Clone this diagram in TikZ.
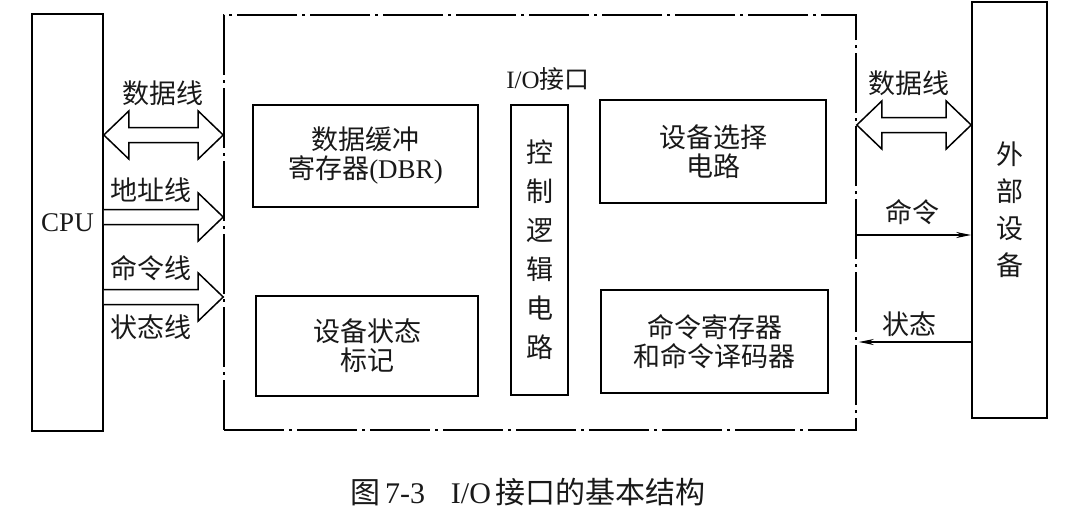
\documentclass[tikz,border=0pt]{standalone}
\usepackage{fontspec}
\setmainfont{Liberation Serif}
\newfontfamily\cjk{Noto Sans CJK SC}
\usetikzlibrary{calc,arrows.meta}
\newcommand\hollowR[2]{%
  \draw[hollow] let \p1=(#1), \p2=(#2) in
    (\x1,\y1+7.5) -- (\x2-25pt,\y1+7.5) -- (\x2-25pt,\y1+24) -- (\x2,\y1)
    -- (\x2-25pt,\y1-24) -- (\x2-25pt,\y1-7.5) -- (\x1,\y1-7.5);}
\newcommand\hollowLR[2]{%
  \draw[hollow] let \p1=(#1), \p2=(#2) in
    (\x1,\y1) -- (\x1+25pt,\y1+24) -- (\x1+25pt,\y1+7.5) -- (\x2-25pt,\y1+7.5)
    -- (\x2-25pt,\y1+24) -- (\x2,\y1) -- (\x2-25pt,\y1-24) -- (\x2-25pt,\y1-7.5)
    -- (\x1+25pt,\y1-7.5) -- (\x1+25pt,\y1-24) -- cycle;}
\tikzset{
  txt/.style={font=\fontsize{27}{29}\selectfont, text=black!90, inner sep=0pt},
  cjktxt/.style={txt, font=\fontsize{27}{29}\selectfont\cjk},
  box/.style={draw, line width=1.6pt, txt, align=center, inner sep=0pt},
  frame/.style={draw, line width=1.6pt, dash pattern=on 60pt off 5pt on 3pt off 5pt},
  hollow/.style={draw, line width=1.5pt, line join=miter, fill=white},
  thin arrow/.style={draw, line width=1.3pt, -{Stealth[length=15pt,width=6pt]}},
}
\begin{document}
\begin{tikzpicture}[x=1pt,y=-1pt]
\useasboundingbox[fill=white] (0,0) rectangle (1088,514);
% main blocks
\node[box, minimum width=71pt, minimum height=417pt] (cpu) at (67.5,222.5) {CPU};
\node[frame, minimum width=632pt, minimum height=415pt, inner sep=0pt] (io) at (540,222.5) {};
\node[box, minimum width=75pt, minimum height=416pt, font=\fontsize{27}{37}\selectfont\cjk] (dev) at (1009.5,210) {外\\部\\设\\备};
% inner blocks
\node[box, minimum width=225pt, minimum height=102pt] (dbr) at (365.5,156) {{\cjk 数据缓冲}\\{\cjk 寄存器}(DBR)};
\node[box, minimum width=222pt, minimum height=100pt, font=\fontsize{27}{29}\selectfont\cjk] (stat) at (367,346) {设备状态\\标记};
\node[box, minimum width=57pt, minimum height=290pt, font=\fontsize{27}{39}\selectfont\cjk] (ctrl) at (539.5,250) {控\\制\\逻\\辑\\电\\路};
\node[box, minimum width=226pt, minimum height=103pt, font=\fontsize{27}{29}\selectfont\cjk] (sel) at (713,151.5) {设备选择\\电路};
\node[box, minimum width=227pt, minimum height=103pt, font=\fontsize{27}{29}\selectfont\cjk] (cmd) at (714.5,341.5) {命令寄存器\\和命令译码器};
\node[txt, font=\fontsize{25}{28}\selectfont] (iolab) at (548,79) {I/O{\cjk 接口}};
% left bus arrows
\coordinate (l1a) at (cpu.east |- 0,135);
\coordinate (l1b) at (io.west |- 0,135);
\coordinate (l2a) at (cpu.east |- 0,217);
\coordinate (l2b) at (io.west |- 0,217);
\coordinate (l3a) at (cpu.east |- 0,297);
\coordinate (l3b) at (io.west |- 0,297);
\hollowLR{l1a}{l1b}
\hollowR{l2a}{l2b}
\hollowR{l3a}{l3b}
\node[cjktxt] (t1) at (163,93) {数据线};
\node[cjktxt] (t2) at (151,190) {地址线};
\node[cjktxt] (t3) at (151,268) {命令线};
\node[cjktxt] (t4) at (151,327) {状态线};
% right side
\coordinate (r1a) at (io.east |- 0,125);
\coordinate (r1b) at (dev.west |- 0,125);
\hollowLR{r1a}{r1b}
\node[cjktxt] (t5) at (909,83) {数据线};
\draw[thin arrow] (io.east |- 0,235) -- (dev.west |- 0,235);
\node[cjktxt] (t6) at (912,212) {命令};
\draw[thin arrow] (dev.west |- 0,342) -- ([xshift=2pt]io.east |- 0,342);
\node[cjktxt] (t7) at (909,324) {状态};
% caption
\node[txt, font=\fontsize{30}{34}\selectfont] (cap) at (528,492) {{\cjk 图}\,7-3\hspace{26pt}I/O\,{\cjk 接口的基本结构}};
\end{tikzpicture}
\end{document}
